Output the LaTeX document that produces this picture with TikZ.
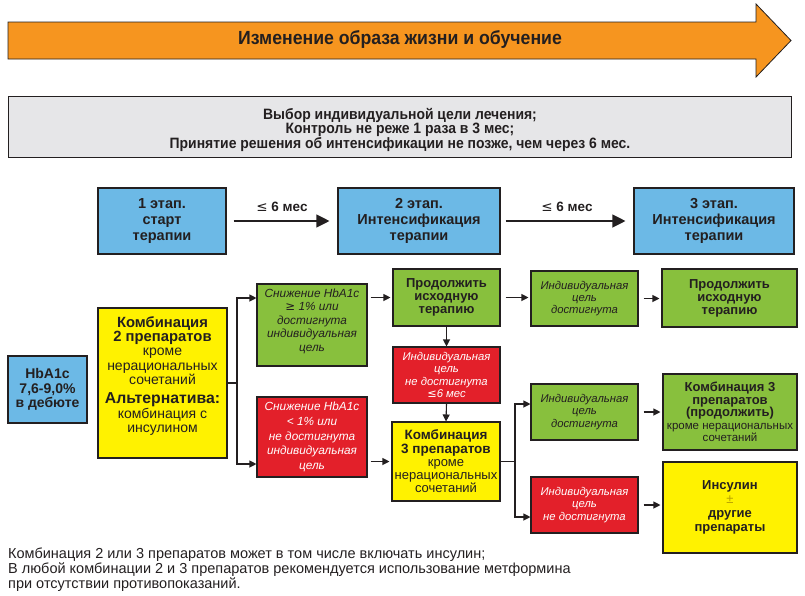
\documentclass[tikz,border=0pt]{standalone}
\usepackage{fontspec}
\setmainfont{Liberation Sans}
\newfontfamily\condfont{Liberation Sans}[FakeStretch=0.93]
\newfontfamily\symfont{DejaVu Sans}
\usetikzlibrary{arrows.meta}
\definecolor{corange}{HTML}{F6951F}
\definecolor{cgrey}{HTML}{E6E6E8}
\definecolor{cblue}{HTML}{6CB9E6}
\definecolor{cgreen}{HTML}{88C03D}
\definecolor{cyellow}{HTML}{FFF200}
\definecolor{cred}{HTML}{E3202A}
\definecolor{cline}{HTML}{231F20}
\definecolor{cpm}{HTML}{B8A200}
\newcommand\setfs[2]{\fontsize{#1}{#2}\selectfont}
\tikzset{
  box/.style={draw=cline, line width=1.1pt, align=center, inner sep=1pt, text=cline},
  bluebox/.style={box, fill=cblue, font=\bfseries\setfs{14.5}{16}},
  greenbold/.style={box, fill=cgreen, font=\bfseries\setfs{13}{13}},
  greenit/.style={box, fill=cgreen, font=\itshape\setfs{11.3}{12.3}},
  redit/.style={box, fill=cred, text=white, font=\itshape\setfs{11.3}{12.3}},
  yellowbox/.style={box, fill=cyellow, font=\setfs{13}{13.2}},
  arr/.style={draw=cline, line width=1.1pt, -{Triangle[length=7pt,width=7pt]}},
  bigarr/.style={draw=cline, line width=1.1pt, -{Triangle[length=13pt,width=13pt]}},
  lbl/.style={font=\bfseries\setfs{13.5}{16}, text=cline}
}
\begin{document}
\begin{tikzpicture}[x=1pt,y=-1pt]
\useasboundingbox (0,0) rectangle (805,595);
% top orange arrow
\draw[draw=cline, line width=0.8pt, fill=corange]
  (8,22) -- (756,22) -- (756,4) -- (791,40.5) -- (756,77) -- (756,59) -- (8,59) -- cycle;
\node[font=\condfont\bfseries\setfs{19}{22}, text=cline] (title) at (400,40) {Изменение образа жизни и обучение};
% grey box
\node[draw=cline, line width=0.9pt, fill=cgrey, minimum width=783pt, minimum height=61pt] (goal) at (400,126.5) {};
\node[align=center, font=\condfont\bfseries\setfs{15}{14.5}, text=cline] (goaltxt) at (400,129.5)
 {Выбор индивидуальной цели лечения;\\Контроль не реже 1 раза в 3 мес;\\Принятие решения об интенсификации не позже, чем через 6 мес.};
% stage boxes
\node[bluebox, minimum width=128pt, minimum height=66pt] (B1) at (162,221) {1 этап.\\старт\\терапии};
\node[bluebox, minimum width=162pt, minimum height=66pt] (B2) at (419,221) {2 этап.\\Интенсификация\\терапии};
\node[bluebox, minimum width=160pt, minimum height=66pt] (B3) at (714,221) {3 этап.\\Интенсификация\\терапии};
\draw[bigarr, shorten <=7pt, shorten >=8pt] (B1) -- (B2) node[midway, above=5pt, lbl] (L1) {{\symfont\mdseries ≤} 6 мес};
\draw[bigarr, shorten <=5pt, shorten >=8pt] (B2) -- (B3) node[midway, above=5pt, lbl] (L2) {{\symfont\mdseries ≤} 6 мес};
% left column
\node[bluebox, minimum width=79pt, minimum height=67pt, font=\bfseries\setfs{14}{14.5}] (B0) at (47.5,389.5) {HbA1c\\7,6-9,0\%\\в дебюте};
\node[yellowbox, minimum width=129pt, minimum height=150pt, font=\setfs{14}{14.3}, text depth=17pt] (Y1) at (162.5,383)
 {{\setfs{14.8}{14.3}\bfseries Комбинация}\\{\setfs{14.8}{14.3}\bfseries 2 препаратов}\\кроме\\нерациональных\\сочетаний\\[5pt]{\setfs{15.8}{14.3}\bfseries Альтернатива:}\\комбинация с\\инсулином};
\node[greenit, minimum width=110pt, minimum height=82pt, font=\itshape\setfs{11.8}{13.5}, text depth=10pt] (G1) at (312,325)
 {Снижение HbA1c\\{\symfont\mdseries\upshape ≥} 1\% или\\достигнута\\индивидуальная\\цель};
\node[redit, minimum width=110pt, minimum height=80pt, font=\itshape\setfs{11.8}{14.7}] (R2) at (312,437)
 {Снижение HbA1c\\< 1\% или\\не достигнута\\индивидуальная\\цель};
% middle column
\node[greenbold, minimum width=107pt, minimum height=57pt] (P1) at (446.5,297.5) {Продолжить\\исходную\\терапию};
\node[redit, minimum width=107pt, minimum height=56pt] (R1) at (446.5,375)
 {Индивидуальная\\цель\\не достигнута\\{\symfont\upshape ≤}6 мес};
\node[yellowbox, minimum width=108pt, minimum height=79pt] (Y2) at (446,461.5)
 {{\setfs{13.5}{13.2}\bfseries Комбинация}\\{\setfs{13.5}{13.2}\bfseries 3 препаратов}\\кроме\\нерациональных\\сочетаний};
% right columns
\node[greenit, minimum width=107pt, minimum height=55pt] (G2) at (584.5,298.5) {Индивидуальная\\цель\\достигнута};
\node[greenbold, minimum width=135pt, minimum height=58pt] (P2) at (729.5,298) {Продолжить\\исходную\\терапию};
\node[greenit, minimum width=107pt, minimum height=56pt] (G3) at (584.5,412) {Индивидуальная\\цель\\достигнута};
\node[greenbold, minimum width=134pt, minimum height=76pt, font=\bfseries\setfs{13}{12.5}] (C3) at (730,412)
 {Комбинация 3\\препаратов\\(продолжить)\\\mdseries\setfs{11.5}{12.5}кроме нерациональных\\\mdseries\setfs{11.5}{12.5}сочетаний};
\node[redit, minimum width=107pt, minimum height=56pt] (R3) at (584.5,505) {Индивидуальная\\цель\\не достигнута};
\node[yellowbox, minimum width=134pt, minimum height=91pt, font=\bfseries\setfs{13}{14}] (Y3) at (730,507.5)
 {Инсулин\\{\color{cpm}\mdseries ±}\\другие\\препараты};
% connectors
\coordinate (j1) at (237,383);
\coordinate (j1t) at (237,298);
\coordinate (j1b) at (237,464);
\draw[draw=cline, line width=1.1pt] (Y1.east) -- (j1);
\draw[arr] (j1) -- (j1t) -- (G1.west |- j1t);
\draw[arr] (j1) -- (j1b) -- (R2.west |- j1b);
\draw[arr, shorten <=3pt, shorten >=2pt] (G1.east |- P1.west) -- (P1.west);
\draw[arr] (P1.south) -- (R1.north);
\draw[arr] (R1.south) -- (Y2.north);
\draw[arr, shorten <=3pt, shorten >=2pt] (R2.east |- Y2.west) -- (Y2.west);
\draw[arr, shorten <=5pt, shorten >=2pt] (P1.east) -- (G2.west |- P1.east);
\draw[arr, shorten <=5pt, shorten >=2pt] (G2.east) -- (P2.west |- G2.east);
\coordinate (j2) at (515,461.5);
\coordinate (j2t) at (515,404);
\coordinate (j2b) at (515,517);
\draw[draw=cline, line width=1.1pt] (Y2.east) -- (j2);
\draw[arr] (j2) -- (j2t) -- (G3.west |- j2t);
\draw[arr] (j2) -- (j2b) -- (R3.west |- j2b);
\draw[arr, shorten <=5pt, shorten >=2pt] (G3.east) -- (C3.west |- G3.east);
\draw[arr, shorten <=5pt, shorten >=2pt] (R3.east) -- (Y3.west |- R3.east);
% footnote
\node[anchor=north west, align=left, inner sep=0pt, font=\setfs{14.5}{15}, text=cline] (note) at (8,548)
 {Комбинация 2 или 3 препаратов может в том числе включать инсулин;\\В любой комбинации 2 и 3 препаратов рекомендуется использование метформина\\при отсутствии противопоказаний.};
\end{tikzpicture}
\end{document}
